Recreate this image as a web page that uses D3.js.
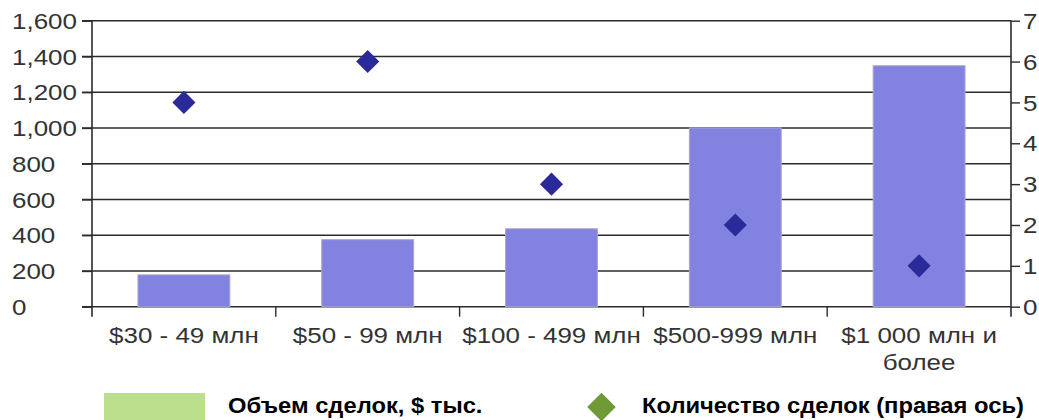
<!DOCTYPE html>
<html>
<head>
<meta charset="utf-8">
<script src="https://cdn.jsdelivr.net/npm/d3@7"></script>
<style>
  body { margin: 0; background: #fff; }
  svg text { font-family: "Liberation Sans", Arial, sans-serif; }
</style>
</head>
<body>
<svg id="chart" width="1039" height="420"></svg>
<script>
// data
var categories = ['$30 - 49 млн', '$50 - 99 млн', '$100 - 499 млн', '$500-999 млн', '$1 000 млн и|более'];
var volume = [178, 375, 436, 1000, 1348];   // Объем сделок, $ тыс.
var count = [5, 6, 3, 2, 1];                // Количество сделок (правая ось)
var leftTicks = [0, 200, 400, 600, 800, 1000, 1200, 1400, 1600];
var rightTicks = [0, 1, 2, 3, 4, 5, 6, 7];
var legendLabels = ['Объем сделок, $ тыс.', 'Количество сделок (правая ось)'];

var svg = d3.select('#chart'),
    pLeft = 92, pRight = 1011, pTop = 20.7, pBottom = 306.7,
    sx = 1.18; // labels look horizontally stretched in the reference

var x = d3.scaleBand().domain(categories).range([pLeft, pRight]).paddingInner(0).paddingOuter(0);
var yL = d3.scaleLinear().domain([0, 1600]).range([pBottom, pTop]);
var yR = d3.scaleLinear().domain([0, 7]).range([pBottom, pTop]);

// put a text at (tx, ty) with horizontal stretch
function stretched(sel, tx, ty, k) {
  sel.attr('x', 0).attr('y', 0)
    .attr('transform', 'translate(' + tx + ',' + ty + ') scale(' + k + ',1)');
}

// gridlines
svg.append('g').selectAll('line')
  .data(leftTicks)
  .enter().append('line')
  .attr('x1', pLeft - 10).attr('x2', pRight)
  .attr('y1', function(d) { return yL(d); })
  .attr('y2', function(d) { return yL(d); })
  .attr('stroke', '#2b2b2b').attr('stroke-width', 1.4);

// bars
var bw = x.bandwidth() * 0.5;
svg.append('g').selectAll('rect')
  .data(volume)
  .enter().append('rect')
  .attr('x', function(d, i) { return x(categories[i]) + x.bandwidth() / 2 - bw / 2; })
  .attr('y', function(d) { return yL(d); })
  .attr('width', bw)
  .attr('height', function(d) { return pBottom - yL(d); })
  .attr('fill', '#8282e0')
  .attr('stroke', '#a9a9c9').attr('stroke-width', 1);

// left axis (tick groups are already translated to y), labels left aligned
var axL = svg.append('g').attr('transform', 'translate(' + pLeft + ',0)')
  .call(d3.axisLeft(yL).tickValues(leftTicks).tickSize(10).tickFormat(d3.format(',')));
axL.select('.domain').remove();
axL.selectAll('line').attr('stroke', '#2b2b2b').attr('stroke-width', 1.4);
axL.selectAll('text').attr('font-size', 22).attr('fill', '#333').attr('dy', '0.35em')
  .attr('text-anchor', 'start')
  .each(function() { stretched(d3.select(this), 12 - pLeft, 0, sx); });
svg.append('line').attr('x1', pLeft).attr('x2', pLeft).attr('y1', pTop).attr('y2', pBottom + 10)
  .attr('stroke', '#2b2b2b').attr('stroke-width', 1.6);

// right axis
var axR = svg.append('g').attr('transform', 'translate(' + pRight + ',0)')
  .call(d3.axisRight(yR).tickValues(rightTicks).tickSize(9).tickFormat(d3.format('d')));
axR.select('.domain').remove();
axR.selectAll('line').attr('stroke', '#2b2b2b').attr('stroke-width', 1.4);
axR.selectAll('text').attr('font-size', 22).attr('fill', '#333').attr('dy', '0.35em')
  .each(function() { stretched(d3.select(this), 12, 0, sx); });
svg.append('line').attr('x1', pRight).attr('x2', pRight).attr('y1', pTop).attr('y2', pBottom + 10)
  .attr('stroke', '#2b2b2b').attr('stroke-width', 1.6);

// bottom axis: ticks between categories
var seps = categories.slice(1).map(function(c) { return x(c); });
svg.append('g').selectAll('line')
  .data(seps)
  .enter().append('line')
  .attr('x1', function(d) { return d; }).attr('x2', function(d) { return d; })
  .attr('y1', pBottom).attr('y2', pBottom + 10)
  .attr('stroke', '#2b2b2b').attr('stroke-width', 1.4);

svg.append('g').selectAll('text')
  .data(categories)
  .enter().append('text')
  .attr('text-anchor', 'middle')
  .attr('font-size', 22).attr('fill', '#333')
  .each(function(d) {
    var t = d3.select(this);
    stretched(t, x(d) + x.bandwidth() / 2, 343, sx);
    d.split('|').forEach(function(p, i) {
      t.append('tspan').attr('x', 0).attr('dy', i ? 27 : 0).text(p);
    });
  });

// diamonds
var diamond = d3.symbol().type(d3.symbolDiamond2).size(340);
svg.append('g').selectAll('path')
  .data(count)
  .enter().append('path')
  .attr('d', diamond)
  .attr('transform', function(d, i) {
    return 'translate(' + (x(categories[i]) + x.bandwidth() / 2) + ',' + yR(d) + ')';
  })
  .attr('fill', '#2a2a9a');

// legend
svg.append('rect').attr('x', 104).attr('y', 393).attr('width', 101).attr('height', 30).attr('fill', '#bcdf8e');
stretched(svg.append('text').attr('font-size', 22).attr('font-weight', 'bold')
  .attr('fill', '#000').text(legendLabels[0]), 228, 413, 1.08);
svg.append('path').attr('d', d3.symbol().type(d3.symbolDiamond2).size(520))
  .attr('transform', 'translate(601.5,407)').attr('fill', '#6f9a36');
stretched(svg.append('text').attr('font-size', 22).attr('font-weight', 'bold')
  .attr('fill', '#000').text(legendLabels[1]), 642, 413, 1.08);
</script>
</body>
</html>
